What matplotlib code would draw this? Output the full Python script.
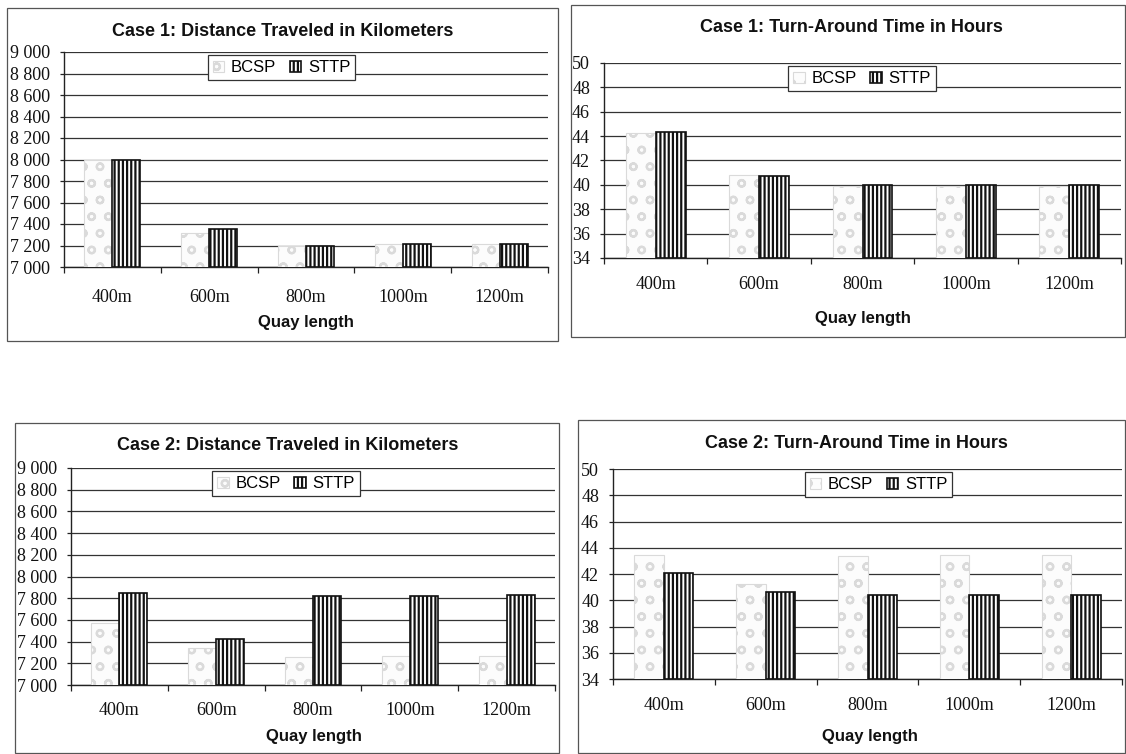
import matplotlib
matplotlib.use("Agg")
import matplotlib.pyplot as plt
from matplotlib.patches import Rectangle
from matplotlib.ticker import FuncFormatter, FixedLocator
import numpy as np

categories = ["400m", "600m", "800m", "1000m", "1200m"]
series_names = ["BCSP", "STTP"]

case1_dist_bcsp = [8000, 7320, 7200, 7210, 7215]
case1_dist_sttp = [8000, 7350, 7200, 7210, 7215]
case1_time_bcsp = [44.25, 40.8, 39.9, 39.9, 39.9]
case1_time_sttp = [44.3, 40.7, 40.0, 40.0, 40.0]
case2_dist_bcsp = [7570, 7345, 7260, 7265, 7265]
case2_dist_sttp = [7845, 7425, 7820, 7820, 7825]
case2_time_bcsp = [43.47, 41.25, 43.4, 43.42, 43.47]
case2_time_sttp = [42.1, 40.6, 40.43, 40.43, 40.43]

titles = ["Case 1: Distance Traveled in Kilometers",
          "Case 1: Turn-Around Time in Hours",
          "Case 2: Distance Traveled in Kilometers",
          "Case 2: Turn-Around Time in Hours"]
xlabel = "Quay length"

dist_ticks = [7000, 7200, 7400, 7600, 7800, 8000, 8200, 8400, 8600, 8800, 9000]
time_ticks = [34, 36, 38, 40, 42, 44, 46, 48, 50]

W, H = 1126, 754
plt.rcParams['hatch.linewidth'] = 1.6
fig = plt.figure(figsize=(W / 100, H / 100), dpi=100)
fig.patch.set_facecolor("white")

SANS = "Liberation Sans"
SERIF = "Liberation Serif"


def px_rect(l, t, r, b):
    return [l / W, 1 - b / H, (r - l) / W, (b - t) / H]


def frame(l, t, r, b):
    fig.add_artist(Rectangle((l / W, 1 - b / H), (r - l) / W, (b - t) / H,
                             transform=fig.transFigure, fill=False,
                             edgecolor="#555555", linewidth=0.9))


def ftext(x, y, s, **kw):
    fig.text(x / W, 1 - y / H, s, ha="center", va="center", **kw)


def panel(rect, bcsp, sttp, ticks, fmt, leg_x, title, title_xy, xl_xy, tick_pad):
    ax = fig.add_axes(px_rect(*rect))
    x = np.arange(len(categories))
    bw = 0.29
    ax.bar(x - bw / 2, np.array(bcsp) - ticks[0], bw, bottom=ticks[0],
           facecolor="#fcfcfc", edgecolor="#dadada", linewidth=0.8,
           hatch="o", label=series_names[0], zorder=3)
    ax.bar(x + bw / 2, np.array(sttp) - ticks[0], bw, bottom=ticks[0],
           facecolor="white", edgecolor="#111111", linewidth=1.2,
           hatch="||||", label=series_names[1], zorder=3)
    ax.set_xlim(-0.5, len(categories) - 0.5)
    ax.set_ylim(ticks[0], ticks[-1])
    ax.set_yticks(ticks)
    ax.yaxis.set_major_formatter(FuncFormatter(fmt))
    ax.set_xticks(x)
    ax.set_xticklabels(categories)
    ax.xaxis.set_minor_locator(FixedLocator(np.arange(-0.5, len(categories), 1.0)))
    ax.tick_params(axis="x", which="major", length=0, pad=tick_pad)
    ax.tick_params(axis="x", which="minor", length=4, width=0.9, color="#222222")
    ax.tick_params(axis="y", length=3, width=0.9, pad=7, color="#222222")
    for lab in ax.get_xticklabels() + ax.get_yticklabels():
        lab.set_fontfamily(SERIF)
        lab.set_fontsize(13)
        lab.set_color("#111111")
    ax.grid(axis="y", color="#333333", linewidth=0.9, zorder=0)
    ax.set_axisbelow(True)
    for s in ["top", "right"]:
        ax.spines[s].set_visible(False)
    for s in ["left", "bottom"]:
        ax.spines[s].set_color("#222222")
        ax.spines[s].set_linewidth(1.0)
    leg = ax.legend(loc="upper left", bbox_to_anchor=(leg_x, 1.0), ncol=2,
                    frameon=True, fancybox=False, framealpha=1,
                    edgecolor="#333333", borderpad=0.3, handlelength=0.7,
                    handleheight=0.7, handletextpad=0.4, columnspacing=0.8,
                    borderaxespad=0.2,
                    prop={"family": SANS, "size": 12})
    leg.get_frame().set_linewidth(0.9)
    ftext(*title_xy, title, fontfamily=SANS, fontweight="bold", fontsize=13,
          color="#111111")
    ftext(*xl_xy, xlabel, fontfamily=SANS, fontweight="bold", fontsize=12,
          color="#111111")
    return ax


def fmt_dist(v, pos):
    return f"{v:,.0f}".replace(",", " ")


def fmt_time(v, pos):
    return f"{v:.0f}"


# frames
frame(7, 8, 558, 341)
frame(571, 5, 1125, 337)
frame(15, 423, 559, 753)
frame(578, 420, 1125, 753)

panel((64, 52, 548, 267), case1_dist_bcsp, case1_dist_sttp, dist_ticks, fmt_dist,
      0.29, titles[0], (283, 31), (306, 323), 16)
panel((604, 63, 1121, 258), case1_time_bcsp, case1_time_sttp, time_ticks, fmt_time,
      0.35, titles[1], (851, 28), (863, 318), 13)
panel((71, 468, 555, 685), case2_dist_bcsp, case2_dist_sttp, dist_ticks, fmt_dist,
      0.285, titles[2], (288, 445), (314, 737), 12)
panel((613, 469, 1122, 679), case2_time_bcsp, case2_time_sttp, time_ticks, fmt_time,
      0.37, titles[3], (856, 443), (870, 737), 13)

fig.savefig("out.png", dpi=100, facecolor="white")
